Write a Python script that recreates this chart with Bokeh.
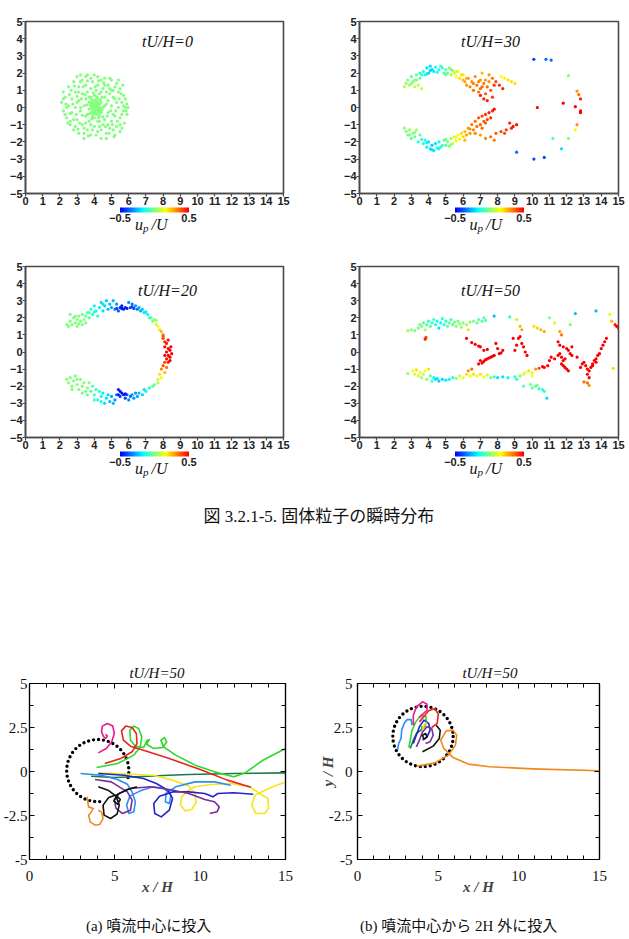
from bokeh.plotting import figure
from bokeh.models import (Range1d, FixedTicker, LinearAxis, ColorBar, LinearColorMapper,
                          Label, ColumnDataSource, CustomLabelingPolicy)
from bokeh.layouts import column, row
from bokeh.embed import file_html
from bokeh.resources import INLINE

# ----------------------------------------------------------------- data ----
TOP_X_TICKS = list(range(0, 16))
TOP_Y_TICKS = list(range(-5, 6))
TOP_Y_LABELS = ["−5", "−4", "−3", "−2", "−1", "0", "1", "2", "3", "4", "5"]
CB_TICKS = [-0.5, 0.5]
CB_LABELS = ["−0.5", "0.5"]
TOP_TITLES = ["tU/H=0", "tU/H=30", "tU/H=20", "tU/H=50"]

BOT_X_TICKS = [0, 5, 10, 15]
BOT_X_LABELS = ["0", "5", "10", "15"]
BOT_X_MINOR = list(range(0, 16))
BOT_Y_TICKS = [-5, -2.5, 0, 2.5, 5]
BOT_Y_LABELS = ["-5", "-2.5", "0", "2.5", "5"]
BOT_Y_MINOR = [-5, -3.75, -2.5, -1.25, 0, 1.25, 2.5, 3.75, 5]
BOT_TITLE = "tU/H=50"

FIG_CAPTION = "図 3.2.1-5.  固体粒子の瞬時分布"
CAP_A = "(a)  噴流中心に投入"
CAP_B = "(b)  噴流中心から 2H 外に投入"

# tU/H = 0 : all particles at u_p/U = 0
P0 = [(2.1,0.3),(2.2,-0.2),(2.3,0.6),(2.2,0.9),(2.4,-0.6),(2.5,1.2),(2.5,0.1),(2.6,-1.0),(2.7,0.5),
      (2.7,-0.3),(2.8,1.5),(2.8,-1.3),(2.9,0.9),(2.9,0.0),(3.0,-0.7),(3.0,1.8),(3.1,1.2),(3.1,-1.5),
      (3.1,0.4),(3.2,-0.2),(3.3,0.8),(3.3,-1.0),(3.3,1.6),(3.4,-1.8),(3.4,0.1),(3.5,0.5),(3.5,-0.5),
      (3.5,1.3),(3.6,-1.3),(3.6,0.9),(3.6,1.9),(3.7,-0.1),(3.7,0.3),(3.7,-0.8),(3.8,0.6),(3.8,-0.3),
      (3.8,1.1),(3.8,-1.6),(3.9,0.1),(3.9,-0.1),(3.9,0.4),(3.9,-0.5),(3.9,1.5),(4.0,0.0),(4.0,0.2),
      (4.0,-0.2),(4.0,0.7),(4.0,-1.1),(4.0,1.9),(4.1,0.1),(4.1,-0.4),(4.1,0.35),(4.1,-0.05),(4.1,1.0),
      (4.2,0.0),(4.2,-0.2),(4.2,0.5),(4.2,-0.8),(4.2,1.3),(4.2,-1.4),(4.3,0.2),(4.3,-0.1),(4.3,0.8),
      (4.3,-0.5),(4.4,1.6),(4.4,-1.8),(4.4,0.3),(4.4,-0.3),(4.5,1.1),(4.5,-1.0),(4.5,0.0),(4.6,0.6),
      (4.6,-0.7),(4.6,1.7),(4.7,-1.5),(4.7,0.2),(4.8,1.3),(4.8,-0.3),(4.9,0.8),(4.9,-1.2),(5.0,1.6),
      (5.0,0.1),(5.0,-0.8),(5.1,1.0),(5.1,-0.4),(5.2,-1.6),(5.2,0.5),(5.3,1.4),(5.3,-1.1),(5.4,0.0),
      (5.4,0.9),(5.5,-0.6),(5.5,1.1),(5.6,0.3),(5.6,-1.2),(5.7,-0.2),(5.7,0.7),(5.8,0.0),(5.9,0.2),
      (5.9,-0.4),(3.2,0.0),(2.4,0.0),(2.6,-0.8),(3.0,0.3),(3.4,-1.2),(4.6,1.3),(4.8,-1.0),(5.2,-0.5),
      (4.4,0.9),(3.6,-0.4),(3.8,-1.0),(4.3,-1.1),(4.7,-1.8),(3.2,1.5),(4.9,1.1),(2.9,-1.1),(5.5,-1.4),
      (3.5,1.8),(4.2,1.8),(5.1,-1.3),(3.95,0.25),(4.05,-0.3),(4.15,0.6),(3.85,-0.65),(4.25,-0.6),
      (4.35,0.45),(3.75,0.15),(4.45,-0.15),(4.05,0.45),(3.95,-0.35),
      (2.2,0.5),(2.3,-0.4),(2.35,0.2),(2.45,-0.9),(2.55,0.75),(2.6,-0.35),(2.65,1.0),(2.75,0.2),
      (2.8,-0.7),(2.85,1.25),(2.95,-0.4),(3.0,0.65),(3.05,-1.25),(3.1,0.9),(3.15,-0.9),(3.2,1.9),
      (3.25,0.5),(3.3,-0.45),(3.35,1.2),(3.4,-1.5),(3.45,0.75),(3.5,-0.9),(3.55,0.15),(3.6,1.55),
      (3.65,-1.65),(3.7,0.6),(3.75,-0.35),(3.8,1.7),(3.85,0.0),(3.9,-1.3),(3.95,0.85),(4.0,-0.6),
      (4.05,1.2),(4.1,-1.6),(4.15,0.2),(4.2,-0.35),(4.25,1.55),(4.3,-0.8),(4.35,0.0),(4.4,-1.3),
      (4.45,0.6),(4.5,-0.55),(4.55,1.45),(4.6,0.1),(4.65,-1.1),(4.7,0.9),(4.75,-0.5),(4.8,0.4),
      (4.85,-1.5),(4.9,1.7),(4.95,-0.2),(5.0,1.0),(5.05,-1.0),(5.1,0.6),(5.15,-1.7),(5.2,1.2),
      (5.25,-0.2),(5.3,0.3),(5.35,-0.8),(5.4,1.6),(5.45,0.5),(5.5,-1.0),(5.55,0.8),(5.6,-0.4),
      (5.65,1.3),(5.7,0.1),(5.75,-0.9),(5.8,0.5),(5.85,-0.2),(5.95,0.0),(4.0,0.1),(4.1,-0.15),
      (3.9,-0.25),(4.2,0.3),(3.8,0.25),(4.3,-0.3),(4.05,0.05),(3.95,0.15),(4.15,-0.1),(3.85,0.45),
      (4.25,0.15),(4.35,-0.2)]
P0_U = [0.0] * len(P0)

# tU/H = 30 : (x, y, u_p/U)
P30 = [(2.6,1.2,0.05),(2.7,1.4,0.02),(2.8,1.6,0.0),(2.9,1.3,0.05),(3.0,1.8,-0.05),(3.1,1.5,0.0),
       (3.2,1.2,0.08),(3.3,1.9,-0.05),(3.3,1.6,0.0),(3.4,1.3,0.1),(3.5,2.0,-0.1),(3.5,1.7,-0.05),
       (3.6,1.1,0.1),(3.7,2.1,-0.12),(3.8,1.9,-0.15),(3.9,2.3,-0.2),(4.0,2.0,-0.22),(4.1,2.4,-0.2),
       (4.2,2.2,-0.22),(4.3,2.1,-0.18),(4.4,2.35,-0.15),(4.6,2.2,-0.12),(4.8,2.3,-0.08),(4.9,2.0,-0.1),
       (5.0,2.2,-0.05),(5.1,2.0,-0.02),(5.2,2.3,0.0),(5.3,1.9,0.05),(5.4,2.15,0.05),(5.5,2.0,0.1),
       (5.6,1.8,0.15),(5.7,2.1,0.12),(5.8,1.7,0.2),(5.9,1.9,0.2),(6.0,1.6,0.25),(6.1,1.5,0.28),
       (6.2,1.3,0.3),(6.3,1.7,0.3),(6.4,1.2,0.32),(6.5,1.5,0.3),(6.6,1.0,0.35),(6.7,1.8,0.3),
       (6.8,1.3,0.33),(6.9,0.9,0.35),(7.0,1.6,0.3),(7.0,1.1,0.35),(7.1,2.0,0.25),(7.2,1.4,0.33),
       (7.3,0.8,0.38),(7.4,1.2,0.35),(7.5,1.5,0.3),(7.6,1.0,0.38),(7.7,0.6,0.42),(7.4,0.4,0.45),
       (7.2,0.5,0.45),(7.5,1.9,0.3),(7.7,1.7,0.35),(7.9,1.5,0.4),(8.1,1.3,0.42),(8.3,1.1,0.45),
       (8.2,1.8,0.15),(8.4,1.7,0.18),(8.6,1.6,0.2),(8.8,1.5,0.2),(9.0,1.4,0.2),
       (3.0,1.4,0.02),(3.2,1.6,0.0),(3.6,1.9,-0.1),(3.9,1.95,-0.18),(4.1,2.15,-0.22),(4.5,2.05,-0.15),
       (4.7,2.4,-0.1),(5.0,1.9,-0.02),(5.3,2.2,0.0),(5.6,2.1,0.1),(6.0,1.9,0.2),(6.2,1.7,0.28),
       (6.6,1.4,0.32),(7.1,1.2,0.36),(7.3,1.6,0.3),(7.8,1.3,0.42),(7.0,0.7,0.45),(6.9,1.5,0.32),
       (2.6,-1.2,0.02),(2.7,-1.4,0.0),(2.8,-1.6,-0.02),(2.9,-1.3,0.03),(3.0,-1.8,-0.05),(3.1,-1.5,0.0),
       (3.2,-1.7,-0.05),(3.3,-1.3,0.05),(3.4,-2.0,-0.1),(3.5,-1.6,-0.05),(3.7,-2.1,-0.12),
       (3.8,-1.9,-0.12),(3.9,-2.3,-0.18),(4.0,-2.0,-0.2),(4.1,-2.4,-0.2),(4.2,-2.2,-0.22),
       (4.3,-2.5,-0.2),(4.4,-2.1,-0.2),(4.5,-2.35,-0.15),(4.6,-2.0,-0.15),(4.7,-2.3,-0.12),
       (4.8,-2.2,-0.1),(4.9,-1.9,-0.05),(5.0,-2.2,-0.05),(5.1,-2.0,0.0),(5.2,-2.25,0.0),(5.3,-1.8,0.05),
       (5.4,-2.1,0.08),(5.5,-1.7,0.1),(5.6,-1.95,0.12),(5.7,-1.6,0.15),(5.8,-1.85,0.18),(5.9,-1.5,0.2),
       (6.0,-1.7,0.22),(6.1,-1.4,0.25),(6.2,-1.6,0.28),(6.3,-1.2,0.3),(6.4,-1.5,0.3),(6.5,-1.0,0.32),
       (6.6,-1.3,0.33),(6.7,-0.8,0.35),(6.8,-1.1,0.35),(6.9,-0.6,0.38),(7.0,-1.0,0.36),(7.1,-0.5,0.4),
       (7.2,-0.8,0.38),(7.3,-0.4,0.42),(7.4,-0.7,0.4),(7.5,-0.3,0.45),(7.6,-0.6,0.43),(7.8,-0.1,0.48),
       (7.0,-1.6,0.3),(7.3,-1.8,0.32),(7.6,-1.7,0.35),(7.9,-1.5,0.38),(8.2,-1.4,0.4),(8.5,-1.3,0.42),
       (8.8,-1.2,0.45),(9.1,-1.0,0.48),(8.9,-1.1,0.47),(8.4,-1.5,0.4),(7.8,-1.9,0.33),(8.7,-0.9,0.45),
       (2.9,-1.6,0.0),(3.2,-1.45,0.03),(3.6,-1.85,-0.1),(3.9,-2.05,-0.18),(4.2,-2.45,-0.2),
       (4.6,-2.4,-0.15),(5.0,-1.85,-0.02),(5.3,-2.15,0.03),(5.6,-1.75,0.15),(6.1,-1.9,0.25),
       (6.4,-1.25,0.3),(6.7,-1.5,0.33),(7.1,-1.2,0.36),(7.3,-0.9,0.38),(7.7,-0.2,0.45),
       (10.1,2.8,-0.4),(10.8,2.8,-0.35),(11.1,2.75,-0.35),(12.1,1.85,0.0),(12.6,0.95,0.3),
       (12.7,0.75,0.35),(12.8,0.5,0.45),(11.8,0.25,0.5),(12.5,0.05,0.5),(12.8,-0.2,0.5),
       (12.8,-0.3,0.5),(10.3,0.0,0.5),(12.6,-1.0,0.3),(12.5,-1.3,0.15),(12.1,-1.8,0.0),
       (11.2,-1.8,-0.05),(11.7,-2.4,-0.2),(9.1,-2.6,-0.35),(10.1,-3.0,-0.4),(10.7,-2.9,-0.4)]

# tU/H = 20 : (x, y, u_p/U)
P20 = [(2.4,1.6,0.0),(2.5,1.5,0.0),(2.6,1.8,0.0),(2.7,1.6,0.0),(2.8,2.0,0.0),(2.9,1.7,0.0),
       (3.0,1.5,0.0),(3.0,1.9,0.0),(3.1,2.1,0.0),(3.2,1.8,0.0),(3.3,1.6,0.0),(3.3,2.2,-0.02),
       (3.4,1.9,0.0),(3.5,2.1,-0.03),(3.5,1.7,0.0),(3.6,2.3,-0.05),(3.7,2.0,-0.05),(3.8,2.5,-0.1),
       (3.9,2.2,-0.1),(4.0,2.7,-0.15),(4.1,2.4,-0.15),(4.2,2.1,-0.12),(4.3,2.6,-0.18),(4.4,2.9,-0.2),
       (4.5,2.4,-0.2),(4.6,2.7,-0.22),(4.7,3.0,-0.22),(4.8,2.5,-0.25),(4.9,2.8,-0.25),(5.0,2.6,-0.28),
       (5.1,3.0,-0.25),(5.2,2.5,-0.32),(5.3,2.8,-0.3),(5.4,2.4,-0.38),(5.5,2.6,-0.42),(5.6,2.7,-0.45),
       (5.7,2.5,-0.45),(5.8,2.6,-0.45),(5.9,2.55,-0.45),(6.0,2.9,-0.3),(6.1,2.6,-0.42),(6.2,2.8,-0.35),
       (6.3,2.55,-0.4),(6.4,2.7,-0.3),(6.5,2.5,-0.35),(6.6,2.6,-0.28),(6.7,2.4,-0.28),(6.8,2.5,-0.22),
       (6.9,2.3,-0.2),(7.0,2.35,-0.18),(7.1,2.2,-0.15),(7.2,2.0,-0.1),(7.3,2.0,-0.05),(7.4,1.8,0.0),
       (7.5,1.9,0.0),(7.6,1.6,0.1),(7.7,1.5,0.15),(7.8,1.3,0.2),(7.9,1.2,0.25),(8.0,1.0,0.35),
       (8.0,0.8,0.4),(8.1,0.6,0.45),(8.2,0.5,0.45),(8.1,0.3,0.5),(8.3,0.2,0.5),(8.2,0.0,0.5),
       (8.4,0.1,0.5),(8.3,-0.2,0.5),(8.5,-0.1,0.5),(8.2,-0.4,0.48),(8.4,-0.3,0.5),(8.1,-0.6,0.42),
       (8.3,-0.6,0.45),(8.0,-0.8,0.38),(8.2,-0.9,0.35),(7.9,-1.0,0.32),(8.1,-1.2,0.25),(7.8,-1.3,0.2),
       (7.9,-1.5,0.15),(7.7,-1.6,0.1),(8.0,0.9,0.38),(8.3,0.7,0.47),(8.4,-0.5,0.5),(8.1,-0.2,0.5),
       (2.6,2.2,0.0),(2.9,2.1,0.0),(3.1,1.65,0.0),(3.7,2.3,-0.08),(4.0,2.35,-0.12),(4.5,2.8,-0.2),
       (5.3,2.55,-0.4),(5.6,2.55,-0.47),(6.2,2.65,-0.38),(7.6,1.85,0.05),(8.45,0.3,0.5),
       (7.5,-1.9,0.0),(7.4,-2.0,-0.05),(7.2,-2.1,-0.1),(7.0,-2.3,-0.15),(6.9,-2.2,-0.2),(6.8,-2.5,-0.22),
       (6.6,-2.4,-0.25),(6.5,-2.6,-0.28),(6.3,-2.7,-0.3),(6.2,-2.5,-0.3),(6.0,-2.8,-0.32),(6.1,-2.6,-0.35),
       (5.9,-2.5,-0.38),(5.8,-2.7,-0.4),(5.7,-2.5,-0.45),(5.6,-2.4,-0.48),(5.5,-2.3,-0.48),
       (5.4,-2.2,-0.45),(5.5,-2.6,-0.4),(5.3,-2.5,-0.35),(5.2,-2.8,-0.3),(5.0,-2.6,-0.28),
       (5.1,-3.0,-0.25),(4.9,-2.9,-0.25),(4.8,-2.5,-0.22),(4.7,-2.7,-0.2),(4.5,-2.4,-0.18),
       (4.6,-3.0,-0.2),(4.4,-2.6,-0.15),(4.3,-2.3,-0.12),(4.2,-2.8,-0.12),(4.1,-2.2,-0.1),
       (4.0,-2.5,-0.08),(3.9,-2.0,-0.05),(3.8,-2.3,-0.05),(3.7,-1.8,0.0),(3.6,-2.1,0.0),
       (2.4,-1.6,0.0),(2.5,-1.8,0.0),(2.6,-1.5,0.0),(2.7,-2.0,0.0),(2.8,-1.7,0.0),(2.9,-1.4,0.0),
       (3.0,-1.9,0.0),(3.1,-2.2,0.0),(3.2,-1.6,0.0),(3.3,-2.0,0.0),(3.4,-1.8,0.0),(3.5,-2.3,-0.02),
       (3.0,-1.6,0.0),(3.3,-2.4,-0.02),(2.7,-2.2,0.0),(3.6,-2.5,-0.05),(4.0,-2.8,-0.1),
       (5.4,-2.5,-0.46),(5.8,-2.45,-0.47),(6.4,-2.4,-0.3),(7.7,-1.8,0.05),(4.4,-2.9,-0.15)]

# tU/H = 50 : (x, y, u_p/U)
P50 = [(2.8,1.25,0.05),(3.0,1.3,0.0),(3.2,1.25,0.0),(3.4,1.4,-0.02),(3.5,1.6,-0.02),(3.6,1.5,0.0),
       (3.7,1.7,-0.05),(3.8,1.3,0.05),(3.85,0.85,0.4),(3.8,0.75,0.45),(3.9,1.6,-0.05),(4.0,1.8,-0.1),
       (4.1,1.5,-0.05),(4.2,1.7,-0.1),(4.3,1.9,-0.1),(4.4,1.6,-0.1),(4.5,1.8,-0.15),(4.6,1.4,-0.2),
       (4.7,1.7,-0.15),(4.8,1.95,-0.1),(4.9,1.6,-0.1),(5.0,1.8,-0.1),(5.1,1.5,-0.05),(5.2,1.7,-0.05),
       (5.3,1.9,-0.08),(5.4,1.6,-0.05),(5.5,1.75,-0.02),(5.6,1.5,0.0),(5.7,1.8,0.0),(5.8,1.65,0.02),
       (5.9,1.45,0.05),(6.0,1.7,0.0),(6.2,1.6,0.05),(6.3,1.3,0.2),(6.4,1.75,0.0),(6.6,1.8,0.0),
       (6.8,1.7,-0.02),(6.9,1.9,-0.05),(7.1,1.8,-0.05),(7.2,2.0,-0.05),(7.3,1.85,-0.05),
       (7.8,2.1,-0.25),(8.7,2.05,-0.1),(9.1,1.9,0.2),(9.3,1.5,0.25),(9.4,1.3,0.28),(10.1,1.5,0.2),
       (10.3,1.4,0.22),(10.5,1.3,0.25),(10.7,1.2,0.28),(11.0,2.0,0.0),(11.3,1.7,0.1),(11.6,1.2,0.3),
       (11.7,1.0,0.35),(12.2,1.6,0.0),(12.5,2.25,-0.25),(13.7,2.4,-0.25),(14.5,2.2,0.15),
       (14.6,1.8,0.25),(14.8,1.6,0.45),(14.9,1.5,0.5),(15.0,1.4,0.5),(14.7,-0.95,0.2),
       (6.2,0.8,0.5),(6.5,0.55,0.5),(6.7,0.45,0.5),(6.9,0.35,0.5),(7.0,0.3,0.5),(7.2,0.1,0.5),
       (7.4,0.15,0.5),(7.0,-0.5,0.5),(7.1,-0.65,0.5),(7.2,-0.55,0.5),(7.3,-0.45,0.5),(7.4,-0.4,0.5),
       (7.5,-0.35,0.5),(7.6,-0.3,0.5),(7.7,-0.25,0.5),(7.8,-0.2,0.5),(6.9,-0.7,0.5),(7.9,0.5,0.5),
       (8.0,0.2,0.5),(8.1,-0.1,0.5),(8.2,-0.05,0.5),(8.3,0.1,0.5),(9.0,0.1,0.5),(9.1,0.4,0.5),
       (9.2,0.8,0.5),(9.3,0.9,0.5),(9.4,0.5,0.5),(9.5,0.3,0.5),(9.6,0.0,0.5),(9.7,-0.2,0.5),
       (8.9,0.8,0.5),(10.6,-0.85,0.5),(10.7,-0.9,0.5),(10.9,-0.8,0.5),(11.0,-0.5,0.5),(11.1,-0.3,0.5),
       (11.3,-0.4,0.5),(11.5,-0.2,0.5),(11.6,-0.1,0.5),(11.7,-0.3,0.5),(11.8,-0.5,0.5),(11.9,-0.4,0.5),
       (11.5,0.6,0.5),(11.6,0.4,0.5),(11.8,0.3,0.5),(12.0,0.2,0.5),(12.1,0.1,0.5),(12.2,-0.1,0.5),
       (12.3,-0.2,0.5),(11.7,-0.7,0.5),(11.8,-0.8,0.5),(11.9,-0.9,0.5),(12.0,-1.0,0.5),(12.1,-1.1,0.5),
       (12.6,-0.3,0.5),(12.8,-0.9,0.5),(12.9,-0.7,0.5),(13.0,-0.6,0.5),(13.1,-0.8,0.5),(13.2,-1.0,0.5),
       (13.3,-1.1,0.5),(13.4,-0.9,0.5),(13.5,-0.7,0.5),(13.6,-0.5,0.5),(13.7,-0.4,0.5),(13.8,-0.2,0.5),
       (13.9,-0.1,0.5),(14.0,0.2,0.5),(14.1,0.4,0.5),(14.2,0.6,0.5),(14.3,0.8,0.5),(13.2,-1.3,0.5),
       (13.3,-1.5,0.5),(13.5,-0.8,0.5),(13.7,-0.6,0.5),(12.3,0.3,0.5),(13.0,-1.75,0.35),
       (13.2,-1.8,0.35),(13.3,-1.95,0.3),
       (2.8,-1.25,0.05),(3.1,-1.1,0.15),(3.2,-1.3,0.1),(3.3,-1.05,0.2),(3.4,-1.4,0.1),(3.5,-1.2,0.15),
       (3.6,-1.5,0.05),(3.7,-1.3,0.1),(3.8,-1.1,0.15),(3.9,-1.6,0.0),(4.0,-1.0,0.2),(4.1,-1.4,-0.05),
       (4.2,-1.7,-0.1),(4.3,-1.5,-0.15),(4.4,-1.6,-0.2),(4.5,-1.55,-0.2),(4.6,-1.7,-0.22),
       (4.8,-1.6,-0.2),(5.0,-1.65,-0.18),(5.2,-1.6,-0.15),(5.4,-1.5,-0.1),(5.6,-1.55,0.0),
       (5.8,-1.4,0.1),(6.0,-1.5,0.15),(6.2,-1.3,0.2),(6.3,-1.1,0.3),(6.4,-1.4,0.15),(6.5,-1.0,0.35),
       (6.6,-1.3,0.2),(6.8,-1.4,0.15),(7.0,-1.3,0.2),(7.2,-1.45,0.15),(7.4,-1.35,0.1),(7.6,-1.5,0.0),
       (7.8,-1.45,-0.1),(8.0,-1.5,-0.2),(8.3,-1.45,-0.2),(8.6,-1.5,-0.15),(9.0,-1.45,-0.1),
       (9.1,-1.6,-0.1),(9.3,-1.4,0.0),(9.5,-1.3,0.1),(9.6,-1.2,0.15),(9.8,-1.1,0.2),(10.0,-1.2,0.1),
       (10.2,-1.0,0.3),(10.4,-0.95,0.4),(10.0,-1.4,0.15),(9.5,-2.0,-0.05),(9.9,-1.9,0.0),
       (10.0,-2.1,-0.05),(10.2,-2.0,-0.05),(10.4,-2.15,-0.1),(10.6,-2.2,-0.1),(10.7,-2.3,-0.1),
       (10.85,-2.7,-0.2),(10.3,-1.95,0.0)]

# (a) released at the jet centre : trajectories (x/H, y/H)
A_PINK = [(4.03,1.06),(4.50,1.31),(4.82,1.69),(4.97,2.16),(4.88,2.58),(4.56,2.73),(4.27,2.58),
          (4.22,2.25),(4.35,1.97),(4.46,1.88),(4.56,2.01),(4.46,2.12)]
A_RED = [(4.41,0.45),(5.35,0.74),(6.01,1.12),(6.30,1.59),(6.26,2.16),(6.01,2.50),(5.64,2.58),
         (5.39,2.31),(5.50,1.78),(5.92,1.44),(6.68,1.21),(8.19,0.74),(10.08,0.08),(11.59,-0.49),
         (12.97,-0.89)]
A_GREEN = [(3.93,0.23),(5.16,0.45),(6.11,0.93),(6.49,1.40),(6.58,1.97),(6.39,2.44),(6.11,2.58),
           (5.88,2.35),(5.92,1.78),(6.20,1.44),(6.68,1.36),(6.90,1.78),(7.02,1.82),(6.87,1.55),
           (7.24,1.31),(7.81,1.36),(8.04,1.69),(7.91,1.93),(7.70,1.78),(7.85,1.40),(8.57,0.93),
           (9.70,0.36),(10.84,-0.02),(11.97,-0.30),(12.63,-0.08),(13.68,0.64),(15.0,1.31)]
A_DKGREEN = [(3.61,-0.27),(4.97,-0.34),(6.30,-0.30),(7.81,-0.23),(9.32,-0.17),(11.97,-0.11),
             (15.0,-0.08)]
A_YELLOW = [(4.03,-0.08),(7.25,-0.21),(8.38,-0.49),(9.33,-0.82),(9.70,-1.25),(9.76,-1.76),
            (9.52,-2.14),(9.14,-2.25),(8.85,-1.91),(8.91,-1.44),(9.23,-1.12),(9.70,-0.87),
            (10.65,-0.74),(11.79,-0.68),(12.92,-0.87),(13.39,-1.19),(13.96,-1.53),(14.02,-2.07),
            (13.77,-2.39),(13.26,-2.39),(13.02,-1.91),(13.20,-1.35),(13.68,-1.12),(14.25,-0.87),
            (15.0,-0.59)]
A_LTBLUE = [(2.99,-0.11),(4.22,-0.21),(5.16,-0.45),(5.73,-0.72),(6.01,-1.16),(6.20,-1.72),
            (6.11,-2.29),(5.83,-2.39),(5.69,-1.91),(5.88,-1.40),(6.49,-1.10),(7.25,-0.87),
            (7.91,-0.97),(8.29,-1.35),(8.19,-1.82),(7.96,-1.72),(8.00,-1.25),(8.57,-0.87),
            (9.70,-0.59),(10.84,-0.59),(11.79,-0.78)]
A_BLUE = [(4.03,-0.11),(5.54,-0.21),(6.68,-0.40),(7.43,-0.68),(8.10,-1.06),(8.38,-1.53),
          (8.19,-2.20),(7.72,-2.58),(7.34,-2.39),(7.28,-1.82),(7.62,-1.40),(8.38,-1.16),
          (9.33,-1.16),(10.27,-1.25),(10.75,-1.44),(11.03,-1.25),(11.97,-1.21),(13.11,-1.29)]
A_PURPLE = [(3.84,-0.45),(4.79,-0.59),(5.26,-0.87),(5.73,-1.16),(6.01,-1.63),(5.92,-2.20),
            (5.45,-2.39),(5.07,-2.10),(4.97,-1.63),(5.26,-1.25),(5.92,-0.97),(7.06,-0.87),
            (8.19,-1.02),(9.33,-1.25),(10.27,-1.59),(10.84,-1.72),(11.12,-2.01),(10.99,-2.29),
            (10.56,-2.39)]
A_BLACK = [(4.03,-0.87),(4.60,-1.06),(5.07,-1.40),(5.26,-1.91),(5.13,-2.42),(4.75,-2.67),
           (4.37,-2.48),(4.31,-1.91),(4.64,-1.48),(5.07,-1.34),(5.32,-1.59),(5.16,-1.86),
           (4.94,-1.67),(5.16,-1.29),(5.73,-1.02),(6.30,-0.87)]
A_ORANGE = [(3.37,-1.44),(3.46,-2.01),(3.74,-2.10),(3.61,-2.31),(3.46,-2.48),(3.56,-2.86),
            (3.84,-3.05),(4.12,-3.01),(4.31,-2.67),(4.22,-2.31),(4.03,-2.20)]
A_RING = (4.0, 0.05, 1.82, -13, -83)        # centre x, centre y, radius, arc from/to (deg)

# (b) released 2H off the jet centre
B_ORANGE = [(3.65,0.30),(4.79,0.49),(5.64,0.93),(6.07,1.50),(6.15,2.06),(5.92,2.35),(5.50,2.31),
            (5.16,1.78),(5.35,1.31),(5.92,0.80),(6.87,0.42),(8.19,0.27),(10.84,0.15),(15.0,0.04)]
B_BLACK = [(4.03,1.12),(4.69,1.44),(5.07,1.88),(5.13,2.35),(4.88,2.63)]
B_BLACK_LOOP = [(4.12,1.82),(4.31,1.97),(4.22,2.16),(4.03,2.06),(4.12,1.82)]
B_LTBLUE = [(2.48,1.21),(2.55,1.59),(2.70,1.88),(2.74,2.35),(2.89,2.73),(3.08,2.95),(3.33,2.95),
            (3.37,2.63)]
B_PINK = [(3.46,2.63),(3.46,3.20),(3.65,3.67),(4.03,3.96),(4.31,3.83),(4.31,3.48),(4.03,3.25),
          (3.84,3.05)]
B_RED = [(3.84,2.82),(4.41,3.45),(4.79,3.58),(5.01,3.26),(4.94,2.73),(4.60,2.50)]
B_GREEN = [(3.18,1.36),(3.27,1.78),(3.37,2.31),(3.61,2.82),(3.93,3.20),(4.26,3.11),(4.22,2.63),
           (3.93,2.50)]
B_DKGREEN = [(3.27,1.31),(3.46,1.78),(3.65,2.16),(3.93,2.35),(4.22,2.63)]
B_BLUE = [(3.46,1.59),(3.61,1.97),(3.84,2.54),(4.12,2.92),(4.41,2.73),(4.50,2.35),(4.31,1.97),
          (4.03,1.78)]
B_PURPLE = [(3.65,1.40),(3.84,1.78),(4.03,2.25),(4.31,2.54),(4.60,2.44),(4.69,2.06),(4.50,1.69),
            (4.22,1.59)]
B_YELLOW = [(4.03,2.35),(4.12,2.63),(4.26,2.82)]
B_RING = (4.06, 1.99, 1.87, 0, 360)

# ---------------------------------------------------------------- style ----
def _jet(t):
    r = min(max(1.5 - abs(4 * t - 3), 0), 1)
    g = min(max(1.5 - abs(4 * t - 2), 0), 1)
    b = min(max(1.5 - abs(4 * t - 1), 0), 1)
    return "#%02x%02x%02x" % (int(r * 255), int(g * 255), int(b * 255))


PALETTE = [_jet(0.12 + 0.76 * i / 255) for i in range(256)]
MAPPER = LinearColorMapper(palette=PALETTE, low=-0.5, high=0.5)

SANS = "Liberation Sans"
SERIF = "Liberation Serif"
CJK = "Liberation Serif, Noto Sans CJK JP"
FRAME_GRAY = "#4a4a4a"
PAGE_W, PAGE_H = 629, 938
HIDE_LABELS = CustomLabelingPolicy(code="for (const i of [...indices]) { indices.unset(i) }\nreturn indices")

# free texts placed on a transparent overlay, in page pixels (x, baseline y)
OVERLAY_TEXTS = []


def page_text(x, y, text, size, font=SERIF, style="normal", align="left"):
    OVERLAY_TEXTS.append(dict(x=x, y=y, text=text, size=size, font=font, style=style,
                              align=align))


def top_panel(width, bl, br, bt, bb, frame, pts, u, title, title_xy):
    p = figure(width=width, height=240, x_range=Range1d(0, 15), y_range=Range1d(-5, 5),
               output_backend="svg", toolbar_location=None, title=None,
               min_border_left=bl, min_border_right=br, min_border_top=bt, min_border_bottom=bb)
    p.grid.visible = False
    p.outline_line_color = FRAME_GRAY
    p.outline_line_width = 1.6
    xb, yl = p.below[0], p.left[0]
    xb.ticker = FixedTicker(ticks=TOP_X_TICKS)
    yl.ticker = FixedTicker(ticks=TOP_Y_TICKS)
    xb.major_label_overrides = {t: str(t) for t in TOP_X_TICKS}
    yl.major_label_overrides = dict(zip(TOP_Y_TICKS, TOP_Y_LABELS))
    for ax in (xb, yl):
        ax.axis_line_color = FRAME_GRAY
        ax.axis_line_width = 1.6
        ax.major_tick_line_color = FRAME_GRAY
        ax.major_tick_line_width = 1.2
        ax.major_tick_out = 3
        ax.major_tick_in = 0
        ax.minor_tick_line_color = None
        ax.major_label_standoff = 0
        ax.major_label_text_font = SANS
        ax.major_label_text_font_style = "bold"
        ax.major_label_text_font_size = "11px"
        ax.major_label_text_color = "#222222"

    src = ColumnDataSource(dict(x=[q[0] for q in pts], y=[q[1] for q in pts], u=u))
    p.scatter("x", "y", source=src, size=3.2, line_color=None,
              fill_color={"field": "u", "transform": MAPPER})

    cb = ColorBar(color_mapper=MAPPER, orientation="horizontal", width=69, height=5,
                  padding=0, margin=0, location="center", ticker=FixedTicker(ticks=CB_TICKS),
                  major_label_overrides=dict(zip(CB_TICKS, CB_LABELS)),
                  major_label_text_font=SANS, major_label_text_font_style="bold",
                  major_label_text_font_size="11px", major_label_text_color="#222222",
                  major_tick_line_color=None, minor_tick_line_color=None,
                  bar_line_color=None, border_line_color=None, background_fill_alpha=0,
                  label_standoff=1)
    p.add_layout(cb, "below")

    L, R, T, B = frame
    cx = (L + R) / 2.0
    page_text(title_xy[0], title_xy[1], title, 16, style="italic", align="center")
    page_text(cx - 19.5, B + 31, "u", 16, style="italic")
    page_text(cx - 11.5, B + 34, "p", 11, style="italic")
    page_text(cx - 3, B + 31, "/U", 16, style="italic")
    return p


def bottom_panel(width, bl, br, frame, curves, ring, ystand, show_ylabel):
    p = figure(width=width, height=260, x_range=Range1d(0, 15), y_range=Range1d(-5, 5),
               output_backend="svg", toolbar_location=None, title=None,
               min_border_left=bl, min_border_right=br, min_border_top=43, min_border_bottom=41)
    p.grid.visible = False
    p.outline_line_color = "black"
    p.outline_line_width = 1.2
    xb, yl = p.below[0], p.left[0]
    xb.ticker = FixedTicker(ticks=BOT_X_TICKS, minor_ticks=BOT_X_MINOR)
    yl.ticker = FixedTicker(ticks=BOT_Y_TICKS, minor_ticks=BOT_Y_MINOR)
    xb.major_label_overrides = dict(zip(BOT_X_TICKS, BOT_X_LABELS))
    yl.major_label_overrides = dict(zip(BOT_Y_TICKS, BOT_Y_LABELS))
    xt = LinearAxis(ticker=FixedTicker(ticks=BOT_X_TICKS, minor_ticks=BOT_X_MINOR),
                    major_label_policy=HIDE_LABELS, major_label_standoff=0)
    yr = LinearAxis(ticker=FixedTicker(ticks=BOT_Y_TICKS, minor_ticks=BOT_Y_MINOR),
                    major_label_policy=HIDE_LABELS, major_label_standoff=0)
    p.add_layout(xt, "above")
    p.add_layout(yr, "right")
    for ax in (xb, yl, xt, yr):
        ax.axis_line_color = "black"
        ax.axis_line_width = 1.2
        ax.major_tick_line_color = "black"
        ax.minor_tick_line_color = "black"
        ax.major_tick_in = 5
        ax.major_tick_out = 0
        ax.minor_tick_in = 4
        ax.minor_tick_out = 0
        ax.major_label_text_font = SERIF
        ax.major_label_text_font_size = "15px"
        ax.major_label_text_color = "#111111"
    xb.major_label_standoff = 11
    xb.axis_label = "x / H"
    xb.axis_label_text_font = SERIF
    xb.axis_label_text_font_style = "bold italic"
    xb.axis_label_text_font_size = "15px"
    xb.axis_label_standoff = -5
    yl.major_label_standoff = ystand
    if show_ylabel:
        yl.axis_label = "y / H"
        yl.axis_label_text_font = SERIF
        yl.axis_label_text_font_style = "bold italic"
        yl.axis_label_text_font_size = "15px"
        yl.axis_label_standoff = -10

    cxr, cyr, rr, a0, a1 = ring
    if a1 - a0 >= 360:
        p.circle(x=[cxr], y=[cyr], radius=rr, fill_color=None, line_color="black",
                 line_width=3.4, line_dash="0 5", line_cap="round")
    else:
        p.arc(x=[cxr], y=[cyr], radius=rr, start_angle=a0, end_angle=a1,
              start_angle_units="deg", end_angle_units="deg",
              direction="anticlock", line_color="black", line_width=3.4, line_dash="0 5",
              line_cap="round")
    for pts, col in curves:
        p.line([q[0] for q in pts], [q[1] for q in pts], line_color=col, line_width=1.6,
               line_join="round")

    L, R, T, B = frame
    page_text((L + R) / 2.0, 672, BOT_TITLE, 15, style="italic", align="center")
    return p


# ---------------------------------------------------------------- build ----
F1 = (25, 283, 21, 193)
F2 = (359, 618, 21, 193)
F3 = (25, 283, 266, 437)
F4 = (359, 618, 266, 437)

p1 = top_panel(315, 25, 32, 21, 47, F1, P0, P0_U, TOP_TITLES[0], (167, 41))
p2 = top_panel(314, 44, 11, 21, 47, F2, P30, [q[2] for q in P30], TOP_TITLES[1], (490, 41))
p3 = top_panel(315, 25, 32, 26, 43, F3, P20, [q[2] for q in P20], TOP_TITLES[2], (167, 290))
p4 = top_panel(314, 44, 11, 26, 43, F4, P50, [q[2] for q in P50], TOP_TITLES[3], (490, 290))

CUR_A = [(A_ORANGE, "#f08a1e"), (A_DKGREEN, "#1d7a45"), (A_YELLOW, "#f5e61a"),
         (A_LTBLUE, "#2b8ef0"), (A_BLUE, "#2323c8"), (A_PURPLE, "#7d2a9c"),
         (A_BLACK, "#111111"), (A_GREEN, "#2ed62e"), (A_RED, "#e8251f"), (A_PINK, "#e8198b")]
CUR_B = [(B_ORANGE, "#f08a1e"), (B_LTBLUE, "#2b8ef0"), (B_DKGREEN, "#1d7a45"),
         (B_GREEN, "#2ed62e"), (B_PINK, "#e8198b"), (B_RED, "#e8251f"), (B_BLUE, "#2323c8"),
         (B_PURPLE, "#7d2a9c"), (B_YELLOW, "#f5e61a"), (B_BLACK, "#111111"),
         (B_BLACK_LOOP, "#111111")]

F5 = (26, 287, 683.3, 859.3)
F6 = (357.3, 621.7, 683.3, 859.3)
p5 = bottom_panel(315, 26, 28, F5, CUR_A, A_RING, 2, False)
p6 = bottom_panel(314, 42, 7, F6, CUR_B, B_RING, 5, True)

page_text(320.5, 516, FIG_CAPTION, 17, font=CJK, align="center")
page_text(150, 925, CAP_A, 15, font=CJK, align="center")
page_text(460, 925, CAP_B, 15, font=CJK, align="center")


def blank(height, width=PAGE_W):
    p = figure(width=width, height=height, x_range=Range1d(0, width), y_range=Range1d(height, 0),
               output_backend="svg", toolbar_location=None, title=None, x_axis_type=None,
               y_axis_type=None, min_border=0, outline_line_color=None,
               background_fill_color=None, border_fill_color=None)
    p.grid.visible = False
    return p


gap1 = blank(160)
gap2 = blank(38)

overlay = blank(PAGE_H)
for t in OVERLAY_TEXTS:
    overlay.add_layout(Label(x=t["x"], y=t["y"], text=t["text"], text_font=t["font"],
                             text_font_size=f'{t["size"]}px', text_font_style=t["style"],
                             text_align=t["align"], text_baseline="alphabetic",
                             text_color="#111111"))
overlay.margin = (-PAGE_H, 0, 0, 0)

main = column(row(p1, p2), row(p3, p4), gap1, row(p5, p6), gap2)
layout = column(main, overlay)

open("out.html", "w").write(file_html(layout, INLINE))
